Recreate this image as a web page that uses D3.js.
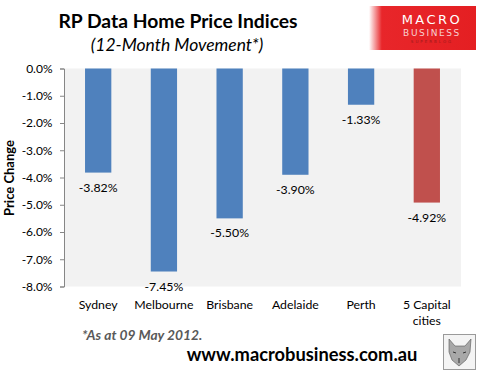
<!DOCTYPE html>
<html><head><meta charset="utf-8">
<script src="https://cdn.jsdelivr.net/npm/d3@7"></script>
<style>body{margin:0;background:#fff}svg{display:block}</style>
</head><body>
<svg id="c" width="481" height="376"></svg>
<script>
const categories = ["Sydney","Melbourne","Brisbane","Adelaide","Perth","5 Capital cities"];
const values = [-3.82,-7.45,-5.50,-3.90,-1.33,-4.92];
const colors = ["#4F81BD","#4F81BD","#4F81BD","#4F81BD","#4F81BD","#C0504D"];
const yTicks = [0,-1,-2,-3,-4,-5,-6,-7,-8];

const svg = d3.select("#c");
const pL = 64, pR = 461, pT = 68.5, pB = 286.5;
const x = d3.scaleBand().domain(categories).range([pL, pR]).paddingInner(0.6).paddingOuter(0.32);
const y = d3.scaleLinear().domain([0,-8]).range([pT, pB]);
const font = "Lato, 'Open Sans', sans-serif";

// plot background
svg.append("rect").attr("x", pL).attr("y", pT).attr("width", pR-pL).attr("height", pB-pT).attr("fill", "#f2f2f2");

// bars
svg.selectAll("rect.bar").data(values).enter().append("rect")
  .attr("x", (d,i) => x(categories[i]))
  .attr("y", y(0))
  .attr("width", x.bandwidth())
  .attr("height", d => y(d) - y(0))
  .attr("fill", (d,i) => colors[i]);

// value labels
svg.selectAll("text.val").data(values).enter().append("text")
  .attr("x", (d,i) => x(categories[i]) + x.bandwidth()/2)
  .attr("y", d => y(d) + 19)
  .attr("text-anchor", "middle").attr("font-family", font).attr("font-size", 12.3).attr("fill", "#000")
  .text(d => d.toFixed(2) + "%");

// y axis
const yAxis = d3.axisLeft(y).tickValues(yTicks).tickSize(4).tickFormat(d => d.toFixed(1) + "%");
const gy = svg.append("g").attr("transform", `translate(${pL},0)`).call(yAxis);
gy.select(".domain").attr("stroke", "#868686");
gy.selectAll(".tick line").attr("stroke", "#868686");
gy.selectAll(".tick text").attr("font-family", font).attr("font-size", 12).attr("fill", "#000").attr("x", -11.5);

// category labels
const catLines = {"5 Capital cities": ["5 Capital","cities"]};
categories.forEach(c => {
  const lines = catLines[c] || [c];
  const t = svg.append("text").attr("x", x(c) + x.bandwidth()/2).attr("y", 309)
    .attr("text-anchor","middle").attr("font-family", font).attr("font-size", 12.3).attr("fill","#000");
  lines.forEach((l,i) => t.append("tspan").attr("x", x(c) + x.bandwidth()/2).attr("dy", i ? 16 : 0).text(l));
});

// y title
svg.append("text").attr("transform", "translate(14,178) rotate(-90)").attr("text-anchor","middle")
  .attr("font-family", font).attr("font-weight","bold").attr("font-size", 13).text("Price Change");

// titles
svg.append("text").attr("x", 178).attr("y", 28).attr("text-anchor","middle")
  .attr("font-family", font).attr("font-weight","bold").attr("font-size", 19.3).text("RP Data Home Price Indices");
svg.append("text").attr("x", 177).attr("y", 51).attr("text-anchor","middle")
  .attr("font-family", font).attr("font-style","italic").attr("font-size", 17.5).text("(12-Month Movement*)");

// footnote
svg.append("text").attr("x", 82).attr("y", 340).attr("font-family", font).attr("font-weight","bold")
  .attr("font-style","italic").attr("font-size", 13.8).attr("fill","#595959").text("*As at 09 May 2012.");
svg.append("text").attr("x", 302).attr("y", 361).attr("text-anchor","middle").attr("font-family", font)
  .attr("font-weight","bold").attr("font-size", 18.3).attr("fill","#000").text("www.macrobusiness.com.au");

// logo
const defs = svg.append("defs");
const lg = defs.append("linearGradient").attr("id","lg").attr("x1","0").attr("x2","1");
lg.append("stop").attr("offset","0").attr("stop-color","#fff");
lg.append("stop").attr("offset","0.12").attr("stop-color","#e8262a");
lg.append("stop").attr("offset","1").attr("stop-color","#e41f22");
svg.append("rect").attr("x",369).attr("y",6).attr("width",107).attr("height",44).attr("fill","url(#lg)");
svg.append("text").attr("x",432).attr("y",24).attr("text-anchor","middle").attr("font-family","'DejaVu Sans', sans-serif")
  .attr("font-size",13).attr("letter-spacing",2.5).attr("fill","#fff").text("MACRO");
svg.append("text").attr("x",432).attr("y",36).attr("text-anchor","middle").attr("font-family","'DejaVu Sans', sans-serif")
  .attr("font-size",9).attr("letter-spacing",1.6).attr("fill","#f7d0d0").text("BUSINESS");
svg.append("text").attr("x",432).attr("y",43).attr("text-anchor","middle").attr("font-family","'DejaVu Sans', sans-serif")
  .attr("font-size",4).attr("letter-spacing",2).attr("fill","#9a1a1a").text("SUPERBLOG");

// fox box
svg.append("rect").attr("x",443.5).attr("y",334.5).attr("width",32).attr("height",35).attr("fill","#f4f4f4").attr("stroke","#9a9a9a");
svg.append("path").attr("d","M449,339 L455,346 L465,346 L471,339 L470,352 L466,360 L459,366 L452,360 L449,352 Z")
  .attr("fill","#a8a8a8").attr("stroke","#555").attr("stroke-width",0.6);
svg.append("path").attr("d","M453,352 l3,1 M463,353 l3,-1 M459,358 l0,5").attr("stroke","#333").attr("stroke-width",1);
</script>
</body></html>
